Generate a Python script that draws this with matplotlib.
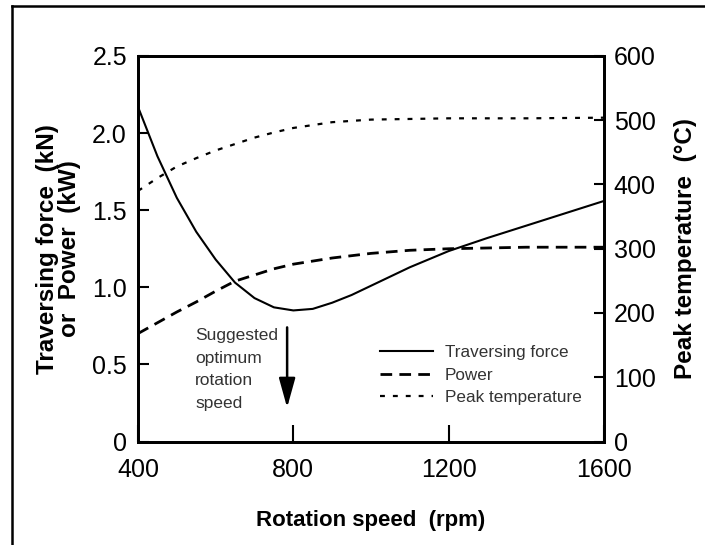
#!/usr/bin/env python3
"""Traversing force / power / peak temperature vs rotation speed."""

import matplotlib
matplotlib.use('Agg')
import matplotlib.pyplot as plt
from matplotlib.lines import Line2D

plt.rcParams['font.family'] = ['Liberation Sans', 'DejaVu Sans']

# ---- data ----
rpm_force = [400, 450, 500, 550, 600, 650, 700, 750, 800, 850, 900, 950,
             1000, 1100, 1200, 1300, 1400, 1500, 1600]
force_kn = [2.17, 1.85, 1.58, 1.36, 1.18, 1.03, 0.93, 0.87, 0.85, 0.86, 0.90,
            0.95, 1.01, 1.13, 1.235, 1.32, 1.40, 1.48, 1.56]

rpm_power = [400, 450, 500, 550, 600, 650, 700, 750, 800, 850, 900, 1000,
             1100, 1200, 1400, 1600]
power_kw = [0.70, 0.77, 0.84, 0.905, 0.975, 1.04, 1.08, 1.12, 1.15, 1.17,
            1.19, 1.22, 1.24, 1.25, 1.26, 1.26]

rpm_temp = [400, 450, 500, 550, 600, 650, 700, 750, 800, 900, 1000, 1200,
            1400, 1600]
peak_temp = [390, 410, 428, 441, 453, 463, 473, 481, 488, 497, 501, 503,
             503, 504]

x_ticks = [400, 800, 1200, 1600]
left_ticks = [0, 0.5, 1.0, 1.5, 2.0, 2.5]
left_labels = ['0', '0.5', '1.0', '1.5', '2.0', '2.5']
right_ticks = [0, 100, 200, 300, 400, 500, 600]

optimum_rpm = 784

W, H = 705, 545
fig = plt.figure(figsize=(W / 100, H / 100), dpi=100)
ax = fig.add_axes([138 / W, 1 - 441.5 / H, (604 - 138) / W, 385.5 / H])
ax2 = ax.twinx()

l1, = ax.plot(rpm_force, force_kn, color='black', lw=1.5,
              label='Traversing force')
l2, = ax.plot(rpm_power, power_kw, color='black', lw=2.0,
              ls=(0, (4.2, 2.6)), label='Power')
l3, = ax2.plot(rpm_temp, peak_temp, color='black', lw=1.6,
               ls=(0, (2.2, 3.6)), label='Peak temperature')

ax.set_xlim(400, 1600)
ax.set_ylim(0, 2.5)
ax2.set_ylim(0, 600)

ax.set_xticks(x_ticks)
ax.set_yticks(left_ticks)
ax.set_yticklabels(left_labels)
ax2.set_yticks(right_ticks)

for a in (ax, ax2):
    for s in a.spines.values():
        s.set_linewidth(2.0)
ax.tick_params(axis='y', direction='in', length=8, width=1.5, pad=8,
               labelsize=18)
ax.tick_params(axis='x', direction='in', length=12, width=1.5, pad=12,
               labelsize=18)
ax2.tick_params(axis='y', direction='in', length=7, width=1.5, pad=7,
                labelsize=18)

ax.set_xlabel('Rotation speed  (rpm)', fontsize=16, fontweight='bold',
              labelpad=20)
ax.set_ylabel('Traversing force  (kN)\nor  Power  (kW)', fontsize=17.5,
              fontweight='bold', labelpad=8, linespacing=0.95)
ax2.set_ylabel('Peak temperature  (\u00b0C)', fontsize=17.5,
               fontweight='bold', labelpad=13)

# suggested optimum arrow + note
ax.annotate('', xy=(optimum_rpm, 0.22), xytext=(optimum_rpm, 0.74),
            arrowprops=dict(arrowstyle='-|>,head_length=0.9,head_width=0.25',
                            lw=1.8, color='black', mutation_scale=20,
                            shrinkA=0, shrinkB=0))
ax.text(547, 0.735, 'Suggested\noptimum\nrotation\nspeed', fontsize=12.5,
        color='#333333', ha='left', va='top', linespacing=1.63)

fig.legend(handles=[l1, l2, l3], loc='upper left',
           bbox_to_anchor=(380 / W, 1 - 345 / H), frameon=False,
           fontsize=12.3, handlelength=3.1, handletextpad=0.7,
           labelspacing=0.45, borderpad=0, borderaxespad=0,
           labelcolor='#333333')

# outer frame (only left and top edges show in the reference)
fig.add_artist(Line2D([11.5 / W, 11.5 / W], [0, 1 - 6 / H],
                      transform=fig.transFigure, color='black', lw=1.8))
fig.add_artist(Line2D([11.5 / W, 1], [1 - 6 / H, 1 - 6 / H],
                      transform=fig.transFigure, color='black', lw=1.8))

fig.savefig('out.png', dpi=100)
